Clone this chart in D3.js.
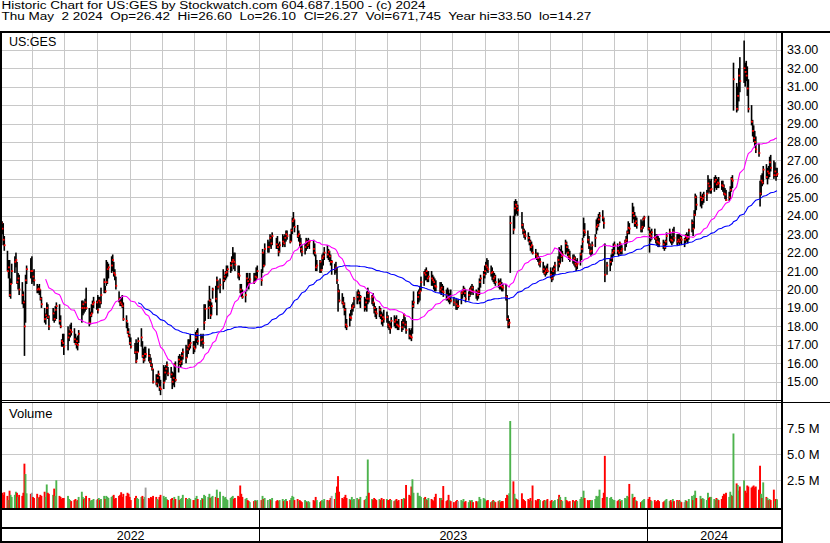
<!DOCTYPE html>
<html><head><meta charset="utf-8">
<script src="https://cdn.jsdelivr.net/npm/d3@7"></script>
<style>
body{margin:0;background:#fff}
svg{display:block;font-family:"Liberation Sans",Arial,Helvetica,sans-serif}
text{white-space:pre}
</style>
</head><body>
<svg id="c" width="830" height="543"></svg>
<script>
// ---------------- DATA ----------------
const symbol = "US:GES";
const titleText = "Historic Chart for US:GES by Stockwatch.com 604.687.1500 - (c) 2024";
const firstDay = "2022-05-03", lastDay = "2024-05-02";
const holidays = ["2022-05-30","2022-06-20","2022-07-04","2022-09-05","2022-11-24","2022-12-26",
  "2023-01-02","2023-01-16","2023-02-20","2023-04-07","2023-05-29","2023-06-19","2023-07-04",
  "2023-09-04","2023-11-23","2023-12-25","2024-01-01","2024-01-15","2024-02-19","2024-03-29"];
const lastOpen = 26.42;
const priceTicks = [15,16,17,18,19,20,21,22,23,24,25,26,27,28,29,30,31,32,33];
const volumeTicks = [2.5,5.0,7.5];           // millions
const yearLabels = ["2022","2023","2024"];

const highs = [
// 2022-05
23.9,23.7,23.6,22.9,22.1,21.6,21.6,20.6,21.4,21.8,22.0,21.5,20.9,20.8,20.4,19.9,19.4,20.8,21.3,21.7,
// 2022-06
21.8,21.0,21.1,20.3,20.2,20.3,20.0,19.6,19.0,18.7,19.3,19.2,18.6,19.0,18.8,19.1,19.3,19.2,18.6,17.3,17.6,
// 2022-07
17.6,18.0,17.8,18.1,18.2,17.9,17.6,17.4,17.5,17.8,19.4,19.4,19.3,19.5,20.1,19.0,18.8,19.2,19.4,19.6,
// 2022-08
19.4,19.7,19.6,19.6,20.1,20.6,20.2,21.6,21.5,21.4,21.8,21.9,21.5,21.1,20.7,19.9,19.6,19.6,19.7,19.3,18.6,18.2,17.9,
// 2022-09
17.6,17.4,17.1,17.3,17.1,17.4,17.9,17.2,16.8,16.9,16.9,16.8,16.5,16.3,16.0,15.7,15.4,15.4,15.6,15.3,15.1,
// 2022-10
15.9,15.8,15.9,16.1,15.8,15.8,15.55,15.5,16.0,16.1,16.4,16.5,16.4,16.6,16.8,17.0,16.9,17.3,17.3,17.6,17.2,
// 2022-11
17.2,17.7,17.8,17.9,17.6,17.5,17.6,19.2,19.2,19.4,20.2,19.5,19.3,20.1,20.2,20.7,20.5,20.6,21.1,20.8,21.0,
// 2022-12
21.3,21.3,21.5,21.8,22.3,22.0,22.0,21.3,21.3,20.3,20.3,20.0,19.9,20.9,20.9,20.6,20.9,20.9,20.9,21.2,21.3,
// 2023-01
21.1,22.2,22.0,22.5,22.7,22.6,23.0,22.9,23.1,22.8,22.9,22.5,22.6,23.0,22.9,23.0,23.2,23.2,23.0,23.3,
// 2023-02
23.9,24.2,23.8,23.5,23.2,23.0,22.8,22.4,22.5,22.8,22.7,22.8,22.7,22.7,22.5,21.9,21.6,21.6,21.5,
// 2023-03
21.9,22.0,22.3,22.4,22.2,22.1,21.9,21.6,21.4,21.5,21.2,20.3,20.0,19.8,19.6,19.3,19.0,18.4,18.7,18.9,19.2,19.3,19.6,
// 2023-04
19.9,20.0,19.9,19.7,19.6,19.5,19.9,20.1,19.9,19.7,19.8,19.3,19.1,19.0,19.1,19.0,18.8,18.7,18.9,
// 2023-05
18.8,18.6,18.3,18.2,18.5,18.6,18.5,18.6,18.3,18.4,18.3,18.4,18.7,18.5,18.3,17.9,17.8,17.9,19.4,19.9,19.9,20.0,
// 2023-06
20.2,20.7,21.0,21.1,21.2,21.0,21.0,21.0,20.8,20.7,20.6,20.5,20.4,20.4,20.3,20.2,20.0,20.1,20.0,19.8,20.0,
// 2023-07
19.6,19.5,19.4,19.5,19.9,20.0,20.2,20.1,20.0,19.9,20.1,20.2,20.3,20.2,20.0,19.9,20.1,20.6,20.8,21.0,
// 2023-08
21.3,21.5,21.7,21.6,21.3,21.2,21.0,20.9,20.8,20.6,20.5,20.6,20.4,20.3,20.3,19.7,18.6,18.4,24.0,24.0,24.8,24.9,24.8,
// 2023-09
24.6,24.2,23.6,23.3,23.2,23.1,22.9,22.7,22.6,22.4,22.2,22.0,22.0,21.8,21.7,21.5,21.3,21.2,21.3,21.4,
// 2023-10
21.2,21.0,21.2,21.3,21.5,21.8,22.3,22.2,22.4,22.1,22.7,22.6,22.4,22.2,22.1,21.9,21.9,21.8,21.6,21.7,22.0,22.4,
// 2023-11
22.8,23.9,23.6,23.2,22.9,22.5,22.3,22.6,23.0,23.8,23.9,24.1,24.2,24.3,23.9,22.5,21.5,21.7,21.9,22.2,22.5,
// 2023-12
22.6,22.5,22.3,22.6,22.5,22.4,22.7,22.9,23.2,23.7,23.6,24.7,24.5,24.2,24.0,23.9,23.8,23.7,23.9,24.0,
// 2024-01
24.0,23.4,23.2,23.3,23.3,23.0,23.0,22.9,22.8,22.7,22.6,22.7,23.1,23.3,23.1,22.9,23.3,23.4,23.0,23.0,23.0,
// 2024-02
23.0,22.9,22.8,23.0,23.1,23.0,23.3,23.8,23.7,24.3,25.2,25.1,25.3,25.1,25.2,25.3,25.4,26.2,26.0,25.9,
// 2024-03
26.0,26.1,26.2,26.1,26.0,26.1,25.9,25.9,25.7,25.5,25.4,25.3,25.6,26.1,26.2,32.3,31.2,31.0,32.0,32.6,
// 2024-04
33.5,32.3,32.4,32.1,31.4,30.0,29.2,28.9,28.6,28.3,27.9,25.9,26.2,26.3,26.7,26.8,26.6,26.7,27.2,27.3,27.0,26.9,
// 2024-05
26.6,26.6
];

const lows = [
// 2022-05
23.2,23.0,22.4,22.1,21.0,20.6,19.6,19.5,20.3,20.9,21.2,20.3,20.0,19.7,19.2,19.0,16.4,18.2,20.3,20.6,
// 2022-06
20.3,20.4,20.2,19.8,19.8,19.7,19.4,19.0,18.2,18.1,18.5,18.4,17.8,18.3,18.2,18.3,18.4,18.1,17.9,16.9,16.9,
// 2022-07
16.45,16.7,17.2,17.4,17.5,17.1,17.0,16.8,16.7,17.1,18.2,18.6,18.7,18.8,18.9,18.0,18.1,18.5,18.7,19.0,
// 2022-08
18.9,18.7,19.0,19.0,19.2,19.8,19.8,20.2,20.3,20.6,20.9,21.0,20.7,20.5,20.0,19.3,19.1,19.1,19.0,18.3,17.9,17.6,17.4,
// 2022-09
17.0,16.8,16.5,16.0,16.2,16.6,16.9,16.3,16.0,16.1,16.3,16.1,16.0,15.8,15.6,14.9,14.8,14.7,14.9,14.5,14.27,
// 2022-10
14.6,15.0,15.1,15.4,15.3,15.2,14.6,14.8,14.7,15.0,15.5,15.9,15.8,15.9,16.2,16.0,16.3,16.5,16.7,16.8,16.5,
// 2022-11
16.6,16.8,17.1,17.0,16.9,17.0,16.8,17.8,18.3,18.4,19.1,18.4,18.6,19.5,19.3,18.6,20.0,19.8,20.0,20.4,20.5,
// 2022-12
20.6,20.7,20.9,21.0,21.4,21.1,21.0,20.6,20.5,19.8,19.6,19.5,19.3,19.9,20.2,20.0,20.3,20.3,20.4,20.5,20.6,
// 2023-01
20.2,20.9,21.2,21.3,22.0,22.0,22.3,22.2,22.4,22.2,22.2,21.8,22.0,22.3,22.4,22.3,22.6,22.7,22.5,22.6,
// 2023-02
23.0,23.4,23.1,22.8,22.6,22.3,22.0,21.8,21.9,22.1,22.2,22.3,22.2,21.9,21.8,21.0,21.0,20.9,20.9,
// 2023-03
21.1,21.3,21.6,21.7,21.6,21.5,21.3,20.8,20.8,20.9,20.3,18.8,19.3,19.2,19.0,18.6,17.9,17.8,18.0,18.3,18.6,18.8,19.0,
// 2023-04
19.2,19.4,19.2,19.0,18.8,18.9,18.8,19.2,19.3,19.2,19.1,18.7,18.5,18.4,18.5,18.4,18.1,18.0,18.2,
// 2023-05
18.2,17.9,17.8,17.6,17.9,18.0,17.9,17.9,17.8,17.8,17.7,17.8,18.0,17.9,17.6,17.3,17.3,17.2,17.6,19.0,19.2,19.3,
// 2023-06
19.4,19.9,20.2,20.5,20.5,20.4,20.4,20.2,20.2,20.0,19.9,19.9,19.8,19.7,19.8,19.6,19.4,19.4,19.3,19.2,19.3,
// 2023-07
19.1,18.9,18.9,19.0,19.2,19.5,19.7,19.6,19.3,19.4,19.6,19.7,19.8,19.7,19.5,19.4,19.5,19.7,20.1,20.3,
// 2023-08
20.6,20.8,21.0,20.9,20.7,20.5,20.4,20.3,20.2,20.1,20.0,20.0,19.9,19.9,19.4,18.3,17.9,17.9,20.9,23.0,23.3,24.0,24.1,
// 2023-09
24.0,23.3,23.0,22.8,22.7,22.6,22.4,22.1,22.0,21.9,21.7,21.6,21.5,21.3,21.2,20.9,20.8,20.7,20.8,20.9,
// 2023-10
20.6,20.4,20.5,20.7,20.8,21.0,21.2,21.4,21.7,21.5,21.9,22.0,21.8,21.6,21.5,21.4,21.3,21.2,21.0,21.1,21.3,21.6,
// 2023-11
22.0,22.8,22.9,22.5,22.2,21.9,21.8,21.9,22.3,23.0,23.2,23.4,23.6,23.7,23.3,20.4,20.8,21.0,21.3,21.5,21.8,
// 2023-12
21.9,21.9,21.8,21.9,21.9,21.9,22.1,22.3,22.5,23.0,23.0,23.6,23.8,23.4,23.4,23.3,23.1,23.1,23.3,23.4,
// 2024-01
23.2,22.0,22.6,22.7,22.7,22.5,22.4,22.3,22.3,22.2,22.1,22.2,22.4,22.6,22.5,22.4,22.5,22.6,22.4,22.5,22.4,
// 2024-02
22.5,22.4,22.3,22.5,22.6,22.5,22.7,23.1,22.9,23.3,24.0,24.3,24.5,24.4,24.6,24.7,24.8,25.2,25.3,25.2,
// 2024-03
25.2,25.3,25.5,25.4,25.5,25.5,25.4,25.3,25.1,24.9,24.8,24.8,24.9,25.3,25.5,29.7,29.6,29.7,30.2,30.7,
// 2024-04
31.2,31.0,31.3,30.5,29.6,28.9,28.3,28.0,27.7,27.4,27.2,24.5,25.1,25.6,25.7,26.0,25.7,26.0,26.1,26.4,26.0,26.1,
// 2024-05
25.9,26.1
];

const closes = [
// 2022-05
23.6,23.3,22.7,22.4,21.0,21.2,19.7,20.3,21.0,21.5,21.6,20.4,20.6,20.0,19.7,19.3,18.0,20.5,21.1,21.0,
// 2022-06
21.0,20.7,20.5,20.0,20.05,20.0,19.5,19.2,18.4,18.6,19.0,18.5,18.0,18.7,18.4,18.9,19.1,18.3,18.0,17.2,17.1,
// 2022-07
16.9,17.4,17.6,17.8,17.7,17.3,17.05,17.2,17.0,17.6,19.0,19.2,19.0,19.3,19.0,18.2,18.6,18.7,19.2,19.3,
// 2022-08
19.3,18.9,19.4,19.3,19.7,20.4,19.9,20.4,21.1,21.2,21.3,21.6,20.9,20.8,20.2,19.5,19.3,19.2,19.1,18.4,18.3,17.7,17.5,
// 2022-09
17.1,16.9,16.6,16.1,16.6,17.2,17.4,16.4,16.2,16.5,16.5,16.4,16.1,15.9,15.7,15.0,14.9,15.2,15.4,14.7,14.6,
// 2022-10
14.95,15.5,15.7,15.9,15.45,15.4,15.0,15.2,15.9,15.1,16.2,16.0,16.1,16.4,16.6,16.3,16.75,16.9,17.0,17.1,16.9,
// 2022-11
16.8,17.4,17.6,17.2,17.25,17.3,17.1,18.2,18.95,19.0,19.4,18.6,19.1,20.0,19.5,20.5,20.15,20.25,20.5,20.7,20.9,
// 2022-12
20.95,21.1,21.3,21.5,21.6,21.5,21.35,20.85,20.75,20.0,19.8,19.6,19.7,20.6,20.45,20.3,20.55,20.4,20.7,20.65,21.0,
// 2023-01
20.5,22.0,21.3,22.2,22.3,22.3,22.8,22.5,22.9,22.45,22.3,22.05,22.4,22.6,22.5,22.8,23.0,22.9,22.6,23.2,
// 2023-02
23.7,23.8,23.4,22.9,23.0,22.5,22.2,22.05,22.3,22.6,22.4,22.5,22.6,22.2,22.0,21.2,21.3,21.5,21.05,
// 2023-03
21.7,21.8,22.0,21.9,22.05,21.8,21.5,21.5,21.1,21.2,20.5,19.9,19.4,19.3,19.2,18.9,18.1,18.0,18.5,18.45,19.0,19.1,19.5,
// 2023-04
19.6,19.8,19.4,19.6,19.05,19.3,19.5,19.8,19.5,19.6,19.3,19.0,18.8,18.7,18.9,18.6,18.3,18.5,18.4,
// 2023-05
18.5,18.1,18.0,17.9,18.3,18.25,18.35,18.1,18.05,18.0,17.95,18.2,18.6,18.1,17.8,17.5,17.45,17.4,19.1,19.3,19.6,19.8,
// 2023-06
19.9,20.4,20.9,20.8,21.0,20.6,20.7,20.6,20.5,20.4,20.2,20.15,20.0,20.1,19.9,19.85,19.7,19.6,19.5,19.6,19.4,
// 2023-07
19.3,19.2,19.1,19.1,19.8,19.9,20.0,19.8,19.5,19.7,20.0,19.9,20.1,19.9,19.85,19.7,19.9,20.4,20.6,20.8,
// 2023-08
21.0,21.3,21.2,21.1,20.9,20.95,20.6,20.7,20.4,20.3,20.35,20.2,20.15,20.1,19.6,18.4,18.1,18.2,23.6,23.25,24.4,24.6,24.5,
// 2023-09
24.3,23.5,23.2,23.0,22.9,22.8,22.6,22.3,22.4,22.0,21.9,21.8,21.7,21.4,21.5,21.1,20.9,21.0,21.1,21.0,
// 2023-10
20.8,20.6,21.0,21.1,21.3,21.6,21.4,22.0,21.8,21.9,22.5,22.3,22.0,21.8,21.7,21.6,21.7,21.4,21.3,21.4,21.9,22.2,
// 2023-11
22.6,23.2,23.1,22.7,22.4,22.05,22.1,22.4,22.8,23.4,23.5,23.8,24.0,23.9,23.6,20.8,21.3,21.5,21.7,22.0,22.1,
// 2023-12
22.4,22.1,22.0,22.5,22.1,22.2,22.6,22.7,23.1,23.35,23.3,24.15,24.0,23.6,23.7,23.5,23.3,23.4,23.8,23.9,
// 2024-01
23.3,23.0,22.9,23.1,22.8,22.75,22.6,22.55,22.5,22.45,22.3,22.6,22.9,23.1,22.7,22.65,23.1,22.8,22.6,22.7,22.6,
// 2024-02
22.8,22.7,22.7,22.9,22.8,22.85,23.2,23.6,23.3,24.05,25.0,24.6,25.0,24.85,24.95,25.1,25.2,25.75,25.6,25.4,
// 2024-03
25.45,25.85,25.95,25.7,25.8,25.75,25.65,25.6,25.2,25.15,24.85,25.0,25.4,26.0,25.9,31.4,29.8,30.5,31.6,31.3,
// 2024-04
32.0,31.8,31.6,30.9,29.8,29.1,28.6,28.2,28.0,27.6,27.4,25.2,25.9,25.8,26.5,26.1,26.4,26.3,26.9,26.6,26.2,26.4,
// 2024-05
26.2,26.27
];

// volume, millions of shares
const volumes = [
// 2022-05
1.2,1.3,1.1,1.35,1.0,0.6,1.5,1.1,0.9,1.1,1.4,1.3,0.9,1.1,1.0,1.3,4.1,3.1,1.25,1.2,
// 2022-06
1.3,0.9,0.8,1.2,0.8,0.9,1.1,1.0,1.4,0.9,2.1,1.3,1.2,1.1,1.7,1.0,2.5,1.0,0.9,0.7,0.8,
// 2022-07
0.8,1.0,0.7,0.6,0.5,0.6,0.7,0.5,0.6,0.9,1.4,0.9,0.7,0.8,1.0,0.8,0.5,0.6,0.6,0.7,
// 2022-08
0.6,0.7,0.8,0.6,0.7,1.0,0.7,1.0,0.9,0.8,0.9,1.0,1.1,0.7,0.8,1.0,1.1,1.35,0.9,1.2,1.0,1.3,1.2,
// 2022-09
0.9,0.6,0.8,1.0,0.8,0.7,0.9,1.0,0.7,0.9,1.8,0.8,0.7,0.9,0.8,1.0,0.9,0.7,0.6,0.9,1.1,
// 2022-10
1.0,0.8,0.9,0.7,0.6,0.7,0.8,0.6,0.9,0.7,1.0,0.6,0.7,0.8,1.1,0.8,0.7,0.6,0.8,0.7,0.6,
// 2022-11
0.6,0.8,1.0,0.7,0.6,0.8,0.7,1.1,1.0,0.9,1.2,0.8,0.9,1.0,0.9,1.6,0.8,1.4,1.0,0.8,0.9,
// 2022-12
0.7,0.6,0.8,0.9,1.0,0.7,0.8,1.0,0.9,2.0,1.2,0.9,0.7,0.8,0.6,0.5,0.4,0.5,0.6,0.5,0.6,
// 2023-01
0.6,1.0,0.7,0.8,0.6,0.5,0.7,0.6,0.8,0.5,0.6,0.5,0.6,0.7,0.5,0.6,0.7,0.5,0.6,0.8,
// 2023-02
1.0,0.9,0.6,0.7,0.5,0.6,0.5,0.4,0.6,0.5,0.4,0.5,0.4,0.6,0.5,0.9,0.6,0.4,0.5,
// 2023-03
0.6,0.5,0.7,0.6,0.5,0.6,0.8,1.0,0.7,1.3,1.9,2.9,1.4,0.8,0.7,0.9,1.1,0.8,0.7,0.6,0.9,0.6,0.7,
// 2023-04
0.8,0.6,0.7,0.9,0.6,0.7,1.0,4.5,1.3,0.7,0.6,0.8,0.7,0.6,0.7,0.6,0.8,0.6,0.7,
// 2023-05
0.7,0.6,0.6,0.7,0.6,0.5,0.6,0.7,0.5,0.6,0.7,0.6,0.8,0.7,2.05,1.1,1.0,1.9,2.6,1.3,1.3,1.0,
// 2023-06
1.0,0.9,0.8,0.9,0.7,0.6,0.8,0.7,0.6,0.5,0.9,1.2,0.8,0.8,0.6,1.95,0.5,0.6,1.1,0.6,0.5,
// 2023-07
0.4,0.5,0.6,0.5,0.6,0.5,0.7,0.4,0.5,0.4,0.6,0.5,0.6,0.4,0.5,0.4,0.5,0.9,0.7,0.8,
// 2023-08
0.7,0.6,0.5,0.6,0.4,0.5,0.6,0.5,0.4,0.5,0.6,0.4,0.5,0.5,0.8,1.1,1.0,1.25,8.2,2.4,1.2,0.8,0.7,
// 2023-09
0.6,1.25,0.7,0.6,0.5,0.7,0.6,0.8,0.5,2.0,0.6,0.5,0.7,0.7,0.6,0.5,0.6,0.5,0.6,0.7,
// 2023-10
0.5,0.6,0.4,0.5,0.6,0.7,1.1,0.9,0.6,0.5,0.9,0.6,0.5,0.4,0.5,0.6,0.4,0.5,0.6,0.5,0.7,0.9,
// 2023-11
0.7,1.5,0.8,0.6,0.5,0.6,0.5,0.6,0.7,1.0,0.9,1.0,1.6,0.8,1.3,4.85,0.9,0.8,0.9,0.7,0.6,
// 2023-12
0.6,0.5,0.6,0.7,0.5,0.6,0.8,0.7,1.0,0.9,2.15,1.2,0.8,0.9,0.6,0.5,0.4,0.5,0.6,0.7,
// 2024-01
0.7,0.9,0.6,0.5,0.6,0.4,0.5,0.6,0.5,0.4,0.5,0.6,0.7,0.5,0.6,0.4,0.7,0.5,0.6,0.5,0.6,
// 2024-02
0.5,0.4,0.4,0.6,0.5,0.4,0.7,1.0,0.6,1.1,1.5,0.8,1.0,0.7,0.8,0.7,0.6,1.3,0.8,0.9,
// 2024-03
0.9,0.7,0.6,0.8,0.7,0.6,0.7,1.0,1.2,1.1,1.3,0.9,1.4,1.1,1.0,7.0,2.2,2.05,1.5,1.9,
// 2024-04
2.5,1.5,1.3,2.0,1.9,1.8,1.9,2.0,1.8,1.9,1.6,3.9,1.2,0.8,2.3,0.9,0.8,0.6,0.7,0.6,1.6,0.5,
// 2024-05
0.7,0.671745
];

// ---------------- CHART ----------------
const svg = d3.select("#c");
const parse = d3.utcParse("%Y-%m-%d"), fmtDay = d3.utcFormat("%Y-%m-%d");
const hol = new Set(holidays);
const days = d3.utcDay.range(parse(firstDay), d3.utcDay.offset(parse(lastDay), 1))
  .filter(d => d.getUTCDay() % 6 !== 0 && !hol.has(fmtDay(d)));
const n = Math.min(days.length, highs.length, lows.length, closes.length, volumes.length);
const bars = d3.range(n).map(i => ({date: days[i], h: highs[i], l: lows[i], c: closes[i], v: volumes[i],
  dir: i === 0 || closes[i] === closes[i-1] ? 0 : (closes[i] > closes[i-1] ? 1 : -1)}));

// layout
const PL = 2, PR = 781, PT = 33, PB = 400, VT = 403, VB = 508;
const x = d3.scaleUtc().domain([parse("2023-01-01"), parse("2024-01-01")]).range([259.3, 647.3]);
const y = d3.scaleLinear().domain([14, 34]).range([400.14, 31.34]);
const yv = d3.scaleLinear().domain([0, 10]).range([506.3, 402.3]);
const GRID = "#c8c8c8";

const defs = svg.append("defs");
defs.append("clipPath").attr("id","cp").append("rect").attr("x",PL).attr("y",PT).attr("width",PR-PL).attr("height",PB-PT);
defs.append("clipPath").attr("id","cv").append("rect").attr("x",PL).attr("y",VT).attr("width",PR-PL).attr("height",VB-VT);

const months = d3.utcMonths(days[0], days[n-1]);

function gridX(top, bottom){
  const g = svg.append("g").attr("transform",`translate(0,${bottom})`)
    .call(d3.axisBottom(x).tickValues(months).tickSize(-(bottom-top)).tickFormat(""));
  g.select(".domain").remove();
  g.selectAll("line").attr("stroke",GRID).attr("shape-rendering","crispEdges");
}
function gridY(scale, vals){
  const g = svg.append("g").attr("transform",`translate(${PL},0)`)
    .call(d3.axisLeft(scale).tickValues(vals).tickSize(-(PR-PL)).tickFormat(""));
  g.select(".domain").remove();
  g.selectAll("line").attr("stroke",GRID).attr("shape-rendering","crispEdges");
}
gridX(PT, PB); gridY(y, priceTicks);
gridX(VT, VB); gridY(yv, volumeTicks);

// price bars
const pg = svg.append("g").attr("clip-path","url(#cp)");
pg.selectAll("rect.hl").data(bars).join("rect").attr("class","hl")
  .attr("x", d => x(d.date) - 0.7).attr("width", 1.6)
  .attr("y", d => y(d.h)).attr("height", d => Math.max(1, y(d.l) - y(d.h)))
  .attr("fill", "#000");
pg.selectAll("rect.cl").data(bars).join("rect").attr("class","cl")
  .attr("x", d => x(d.date) - 0.4).attr("width", 1.8)
  .attr("y", d => y(d.c) - 0.9).attr("height", 1.8)
  .attr("fill", "#ff0000");

// moving averages (30 and 90 day simple)
function sma(len){ return bars.map((d,i) => i >= len-1 ? d3.mean(closes.slice(i-len+1, i+1)) : null); }
const ma30 = sma(30), ma90 = sma(90);
const line = d3.line().defined(d => d[1] != null).x(d => x(d[0])).y(d => y(d[1]));
pg.append("path").attr("d", line(bars.map((d,i)=>[d.date, ma90[i]])))
  .attr("fill","none").attr("stroke","#0000ff").attr("stroke-width",1.1);
pg.append("path").attr("d", line(bars.map((d,i)=>[d.date, ma30[i]])))
  .attr("fill","none").attr("stroke","#ff00ff").attr("stroke-width",1.1);

// volume bars
const vg = svg.append("g").attr("clip-path","url(#cv)");
vg.selectAll("rect").data(bars).join("rect")
  .attr("x", d => x(d.date) - 0.9).attr("width", 1.9)
  .attr("y", d => yv(d.v)).attr("height", d => VB - yv(d.v))
  .attr("fill", d => d.dir > 0 ? "#4db34d" : d.dir < 0 ? "#ff0000" : "#a0a0a0");

// axis labels
function labels(scale, vals, fmt, fs){
  const g = svg.append("g").attr("transform",`translate(${PR},0)`)
    .call(d3.axisRight(scale).tickValues(vals).tickSize(0).tickPadding(6).tickFormat(fmt));
  g.select(".domain").remove();
  g.selectAll("text").attr("font-size",fs).attr("font-family","Liberation Sans, Arial, sans-serif").attr("fill","#000");
}
labels(y, priceTicks, d3.format(".2f"), 12.5);
labels(yv, volumeTicks, d => d.toFixed(1) + " M", 13);

// frame
const frame = svg.append("g").attr("fill","#000").attr("shape-rendering","crispEdges");
frame.append("rect").attr("x",0).attr("y",31).attr("width",830).attr("height",2);
frame.append("rect").attr("x",0).attr("y",31).attr("width",2).attr("height",512);
frame.append("rect").attr("x",PR).attr("y",31).attr("width",2).attr("height",512);
frame.append("rect").attr("x",0).attr("y",400).attr("width",PR).attr("height",1);
frame.append("rect").attr("x",0).attr("y",402).attr("width",830).attr("height",1);
frame.append("rect").attr("x",0).attr("y",508).attr("width",PR).attr("height",2);
frame.append("rect").attr("x",0).attr("y",527).attr("width",PR).attr("height",2);
frame.append("rect").attr("x",0).attr("y",541).attr("width",PR).attr("height",2);
const yearBounds = [PL, x(parse("2023-01-01")), x(parse("2024-01-01")), PR];
[1,2].forEach(k => frame.append("rect").attr("x", Math.round(yearBounds[k])).attr("y",510).attr("width",1).attr("height",31));
svg.append("g").selectAll("text").data(yearLabels).join("text")
  .attr("x", (d,i) => (yearBounds[i] + yearBounds[i+1]) / 2).attr("y", 539.5)
  .attr("text-anchor","middle").attr("font-size",12.5).text(d => d);

// panel labels
svg.append("text").attr("x",9).attr("y",46).attr("font-size",12.5).text(symbol);
svg.append("text").attr("x",9).attr("y",418).attr("font-size",13).text("Volume");

// header
const last = bars[n-1];
const f2 = d3.format(".2f");
const row2 = `${d3.utcFormat("%a %b %e %Y")(last.date)}  Op=${f2(lastOpen)}  Hi=${f2(last.h)}  Lo=${f2(last.l)}  Cl=${f2(last.c)}  Vol=${d3.format(",")(Math.round(last.v*1e6))}  Year hi=${f2(d3.max(highs))}  lo=${f2(d3.min(lows))}`;
const t1 = svg.append("text").attr("x",1.5).attr("y",9).attr("font-size",10).text(titleText);
const t2 = svg.append("text").attr("x",1.5).attr("y",20.3).attr("font-size",10).text(row2);
const w1 = t1.node().getComputedTextLength(), w2 = t2.node().getComputedTextLength();
const s = 424 / w1;
t1.attr("textLength", 424).attr("lengthAdjust","spacingAndGlyphs");
t2.attr("textLength", w2 * s).attr("lengthAdjust","spacingAndGlyphs");
</script>
</body></html>
